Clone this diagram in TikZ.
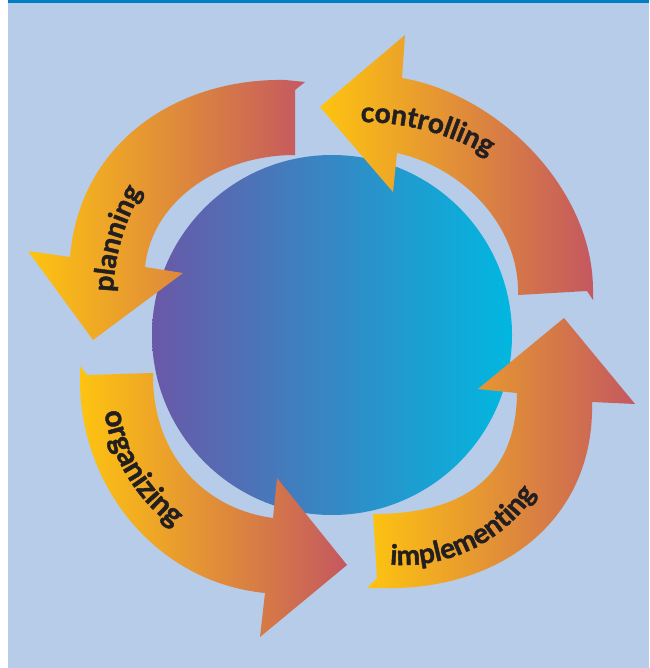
\documentclass[tikz,border=0pt]{standalone}
\usepackage{fontspec}
\newfontfamily\lblfont{Lato}[BoldFeatures={FakeBold=1.5}]
\usetikzlibrary{decorations.text}
\definecolor{bgblue}{RGB}{182,204,232}
\definecolor{topbar}{RGB}{0,125,195}
\definecolor{cpurple}{RGB}{106,88,168}
\definecolor{ccyan}{RGB}{0,184,224}
\definecolor{ayellow}{RGB}{254,196,16}
\definecolor{ared}{RGB}{196,88,96}
\definecolor{txt}{RGB}{35,31,32}
\tikzset{
  arrowband/.style={left color=ayellow,right color=ared},
  labeltext/.style={decorate,decoration={text along path,text align=center,text color=txt}}
}
\newcommand{\lblfmt}{\lblfont\bfseries\fontsize{28}{28}\selectfont}
\newcommand{\lblfmtbig}{\lblfont\bfseries\fontsize{30}{30}\selectfont}
\begin{document}
\begin{tikzpicture}[x=1pt,y=-1pt]
\useasboundingbox (0,0) rectangle (649,668);
\fill[white] (0,0) rectangle (649,668);
\fill[bgblue] (8,0) rectangle (649,668);
\fill[topbar] (8,0) rectangle (649,3);
% central disc
\shade[left color=cpurple,right color=ccyan] (332,335) circle[radius=180];
% planning
\shade[arrowband] (295,90) -- (305,82) -- (285,80) .. controls (180,78) and (80,140) .. (70,257)
  -- (28,251) -- (93,340) -- (183,273) -- (145,267) .. controls (152,200) and (220,155) .. (295,155) -- cycle;
% controlling
\shade[arrowband] (587,291) -- (593,300) -- (593,290) .. controls (593,190) and (500,95) .. (402,78)
  -- (405,35) -- (320,107) -- (393,192) -- (397,153) .. controls (465,168) and (520,228) .. (518,295) -- cycle;
% implementing
\shade[arrowband] (377,578) -- (367,588) -- (380,588) .. controls (500,592) and (595,520) .. (592,402)
  -- (635,404) -- (564,318) -- (478,389) -- (517,393) .. controls (516,480) and (460,514) .. (373,514) -- cycle;
% organizing
\shade[arrowband] (87,375) -- (80,366) -- (80,378) .. controls (79,485) and (155,582) .. (265,593)
  -- (260,637) -- (347,565) -- (277,478) -- (273,518) .. controls (210,510) and (152,460) .. (153,373) -- cycle;
% labels
\path[labeltext,decoration={text={|\lblfmt|controlling}}] (360,380) ++(-105:258) arc[start angle=-105,end angle=-45,radius=258];
\path[labeltext,decoration={text={|\lblfmt|planning}}] (332,300) ++(166:219) arc[start angle=166,end angle=226,radius=219];
\path[labeltext,decoration={text={|\lblfmtbig|organizing}}] (273,389) ++(190:170) arc[start angle=190,end angle=108,radius=170];
\path[labeltext,decoration={text={|\lblfmt|implementing}}] (403,406) ++(100:159) arc[start angle=100,end angle=28,radius=159];
\end{tikzpicture}
\end{document}
